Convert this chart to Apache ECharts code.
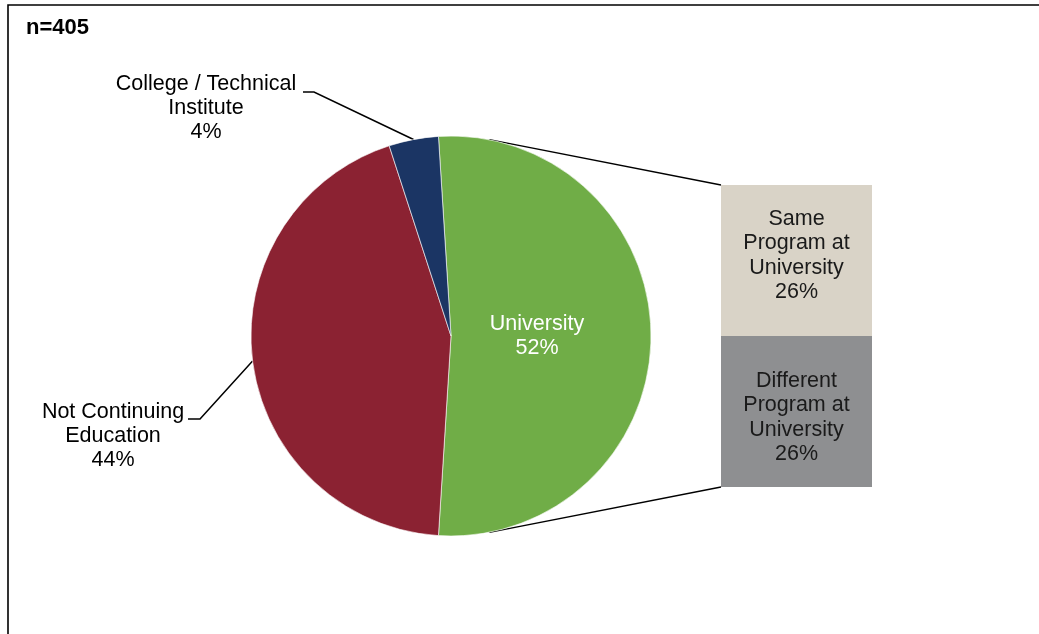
<!DOCTYPE html>
<html>
<head>
<meta charset="utf-8">
<script src="https://cdn.jsdelivr.net/npm/echarts@6/dist/echarts.min.js"></script>
<style>
  html, body { margin: 0; padding: 0; background: #fff; }
  #chart { width: 1039px; height: 634px; }
</style>
</head>
<body>
<div id="chart"></div>
<script>
// Post-graduation plans, n=405
const pieNames = ['University', 'Not Continuing\nEducation', 'College / Technical\nInstitute'];
const pieValues = [52, 44, 4];
const pieColors = ['#70AD47', '#8B2232', '#1B3564'];

// Breakdown of the University share
const barNames = ['Different\nProgram at\nUniversity', 'Same\nProgram at\nUniversity'];
const barValues = [26, 26];
const barColors = ['#8E8F91', '#D9D3C7'];

const FONT = '"Liberation Sans", Arial, sans-serif';
const FS = 21.5;
const CENTER = [451, 336];
const RADIUS = 200;
const START = pieValues[0] / 100 * 180; // University slice centred on the right

const chart = echarts.init(document.getElementById('chart'), null, { renderer: 'canvas' });

// anchor point on the rim at the middle of a slice
function rimPoint(idx) {
  const total = pieValues.reduce((a, b) => a + b, 0);
  let before = 0;
  for (let i = 0; i < idx; i++) before += pieValues[i];
  const mid = START - (before + pieValues[idx] / 2) / total * 360;
  const r = mid * Math.PI / 180;
  return [CENTER[0] + RADIUS * Math.cos(r), CENTER[1] - RADIUS * Math.sin(r)];
}

const option = {
  backgroundColor: '#fff',
  animation: false,
  title: {
    text: 'n=405',
    left: 26, top: 17, padding: 0,
    textStyle: { fontFamily: FONT, fontSize: 22, fontWeight: 'bold', color: '#000' }
  },
  grid: { left: 721, top: 185, width: 151, height: 302 },
  xAxis: { type: 'category', data: ['University'], show: false },
  yAxis: { type: 'value', min: 0, max: barValues.reduce((a, b) => a + b, 0), show: false },
  series: [
    {
      type: 'pie',
      center: CENTER,
      radius: RADIUS,
      startAngle: START,
      clockwise: true,
      avoidLabelOverlap: false,
      data: pieNames.map((n, i) => ({
        name: n, value: pieValues[i],
        itemStyle: { color: pieColors[i] },
        label: i === 0
          ? { position: 'inside', color: '#fff' }
          : { position: 'outside', color: '#000' },
        labelLine: { show: i !== 0 }
      })),
      itemStyle: { borderColor: '#fff', borderWidth: 0.6 },
      label: {
        formatter: p => p.name + '\n' + p.value + '%',
        fontFamily: FONT, fontSize: FS, lineHeight: 24, align: 'center'
      },
      labelLine: { lineStyle: { color: '#000', width: 1.5 } },
      labelLayout: function (p) {
        if (p.dataIndex === 0) return { x: 537, y: 336, align: 'center', verticalAlign: 'middle' };
        const a = (p.labelLinePoints && p.labelLinePoints[0]) || rimPoint(p.dataIndex);
        if (p.dataIndex === 1) {
          return { x: 113, y: 436, align: 'center', verticalAlign: 'middle',
                   labelLinePoints: [a, [200, 419], [188, 419]] };
        }
        return { x: 206, y: 108, align: 'center', verticalAlign: 'middle',
                 labelLinePoints: [a, [314, 92], [303, 92]] };
      }
    }
  ].concat(barNames.map((n, i) => ({
    type: 'bar',
    name: n,
    stack: 'uni',
    barWidth: '100%',
    data: [barValues[i]],
    itemStyle: { color: barColors[i] },
    label: {
      show: true, position: 'inside',
      offset: [0, i === 0 ? 6 : -5],
      formatter: p => p.seriesName + '\n' + p.value + '%',
      fontFamily: FONT, fontSize: FS, lineHeight: 24.5, color: '#1a1a1a', align: 'center'
    }
  })))
};

chart.setOption(option);

// tangent point from an outside point to the pie rim (upper or lower)
function tangent(p, upper) {
  const dx = p[0] - CENTER[0], dy = p[1] - CENTER[1];
  const d = Math.hypot(dx, dy);
  const th = Math.atan2(dy, dx);
  const al = Math.acos(RADIUS / d);
  const t = upper ? th - al : th + al;
  return [CENTER[0] + RADIUS * Math.cos(t), CENTER[1] + RADIUS * Math.sin(t)];
}

const total = barValues.reduce((a, b) => a + b, 0);
const topLeft = chart.convertToPixel({ gridIndex: 0 }, [0, total]);
const botLeft = chart.convertToPixel({ gridIndex: 0 }, [0, 0]);
const halfW = 151 / 2;
const cTop = [topLeft[0] - halfW, topLeft[1]];
const cBot = [botLeft[0] - halfW, botLeft[1]];
const tTop = tangent(cTop, true);
const tBot = tangent(cBot, false);

chart.setOption({
  graphic: [
    { type: 'rect', shape: { x: 8, y: 5, width: 1200, height: 800 },
      style: { fill: 'none', stroke: '#000', lineWidth: 1.6 }, silent: true },
    { type: 'line', shape: { x1: tTop[0], y1: tTop[1], x2: cTop[0], y2: cTop[1] },
      style: { stroke: '#000', lineWidth: 1.3 }, silent: true },
    { type: 'line', shape: { x1: tBot[0], y1: tBot[1], x2: cBot[0], y2: cBot[1] },
      style: { stroke: '#000', lineWidth: 1.3 }, silent: true }
  ]
});
</script>
</body>
</html>
